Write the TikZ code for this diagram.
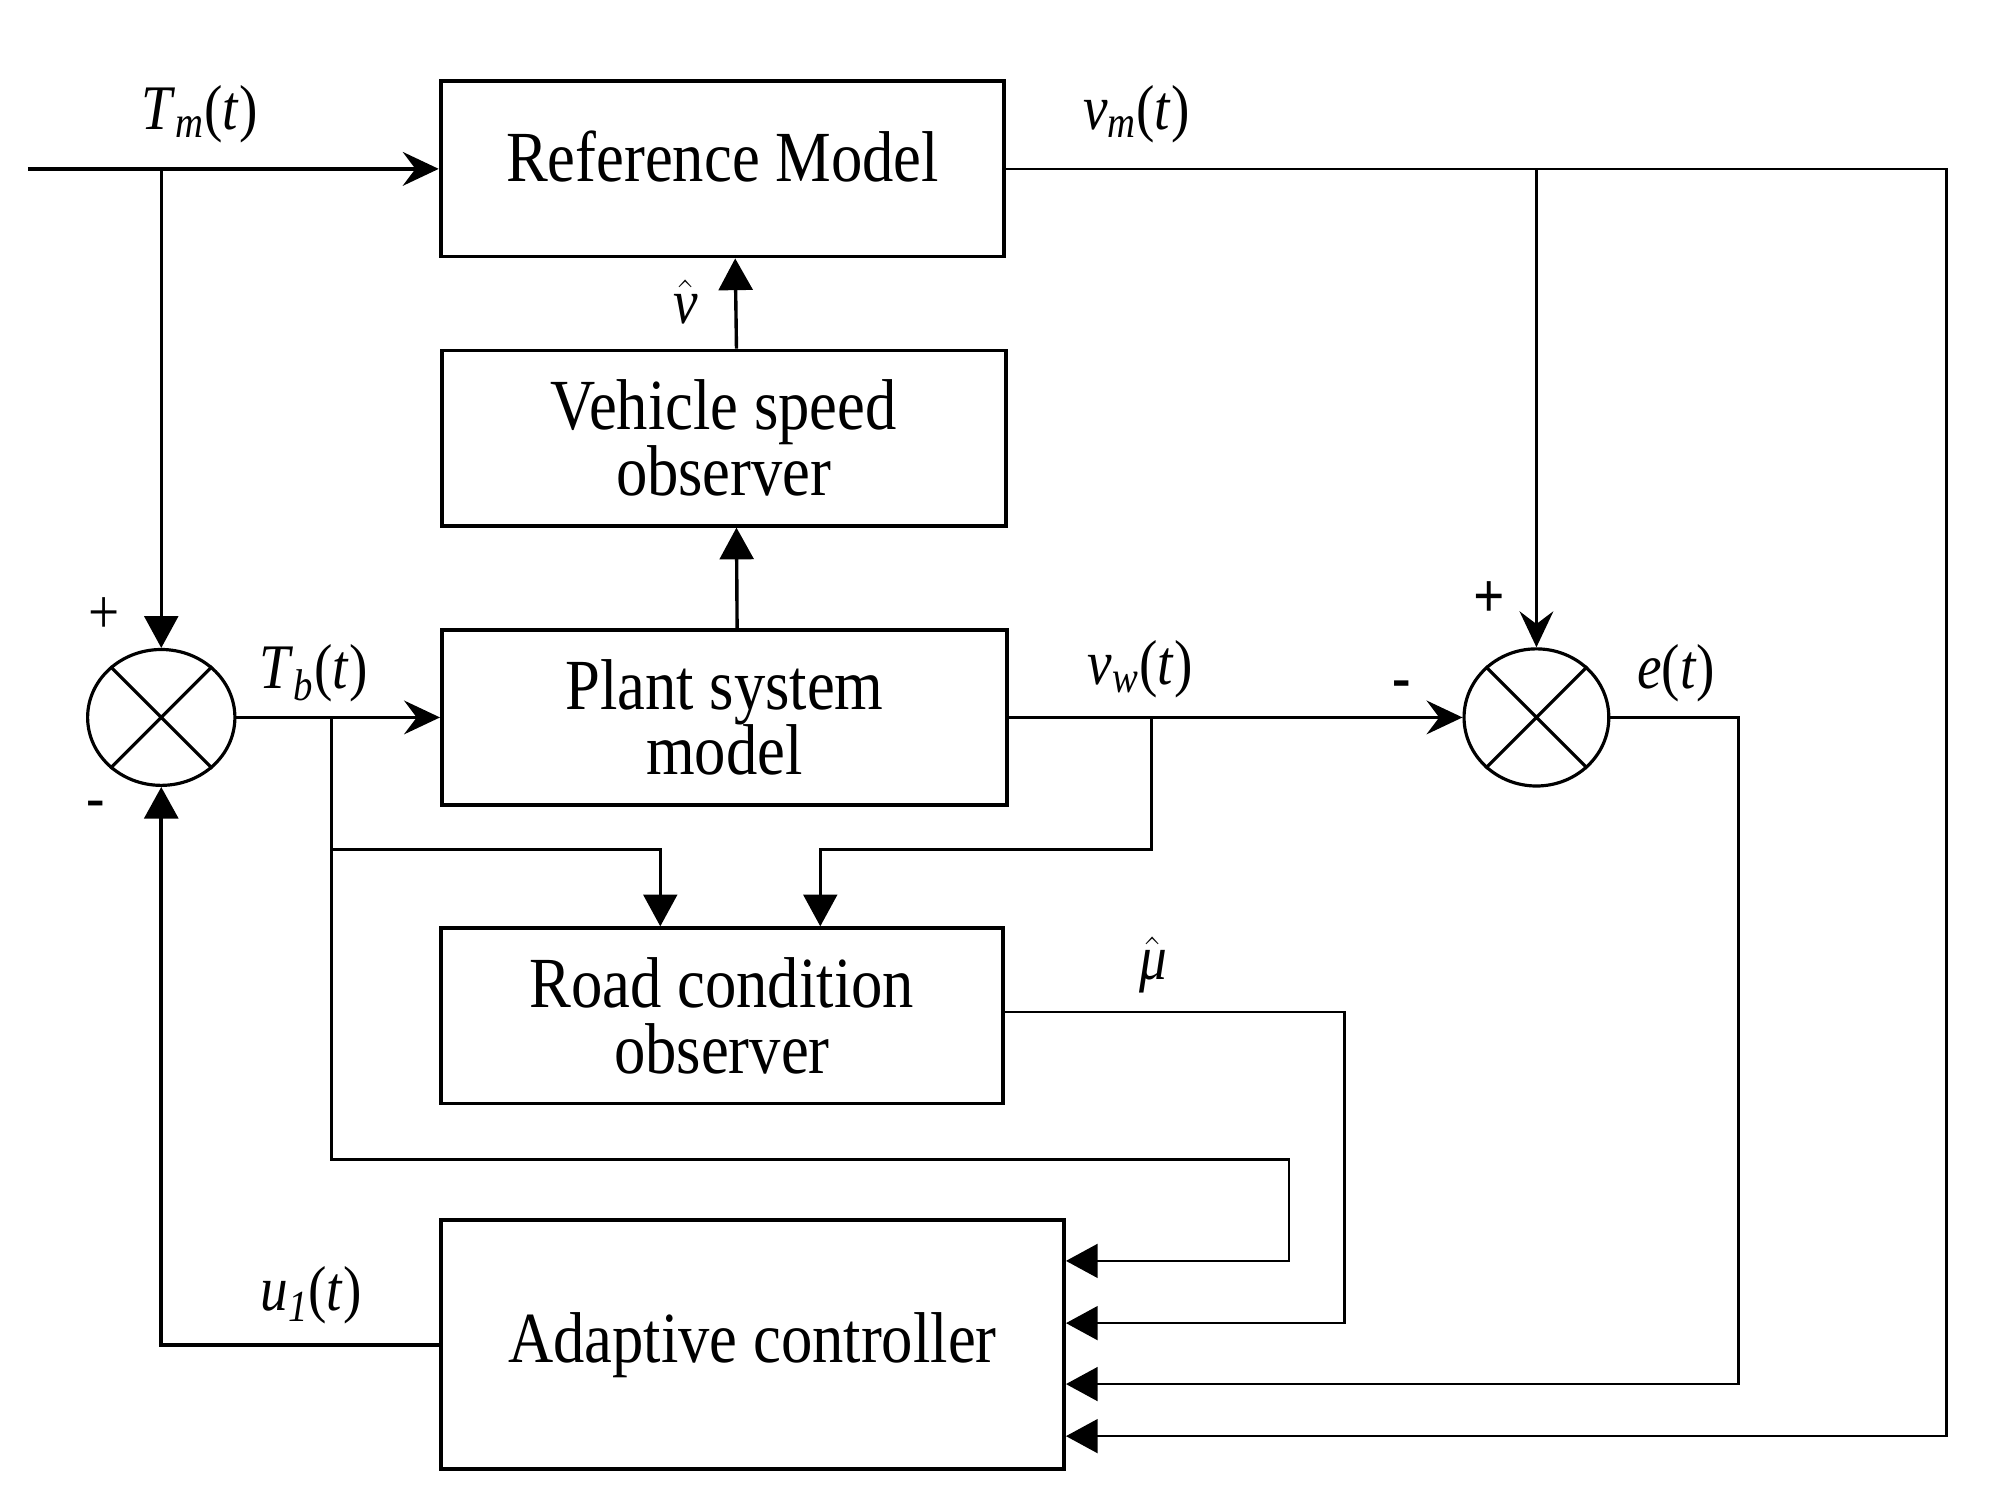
\documentclass[tikz,border=0pt]{standalone}
\usepackage{amsmath}
\usepackage{fontspec}
\setmainfont[FakeStretch=0.87]{Liberation Serif}
\usetikzlibrary{arrows.meta,shapes.geometric}
\begin{document}
\begin{tikzpicture}[x=0.6pt,y=-0.6pt,
  blk/.style={draw,line width=1.8pt,minimum height=82.8pt,inner sep=0pt,align=center,font=\fontsize{34}{31}\selectfont},
  sumnode/.style={draw,ellipse,line width=1.5pt,minimum width=69.6pt,minimum height=64.2pt,inner sep=0pt},
  conn/.style={line width=1.2pt},
  tri/.style={-{Triangle[length=15pt,width=16pt]}},
  stl/.style={-{Stealth[length=17pt,width=16pt,inset=6pt]}},
  lab/.style={font=\fontsize{30}{30}\selectfont,inner sep=0pt},
  sgn/.style={font=\fontsize{30}{30}\selectfont,inner sep=0pt}]
\useasboundingbox (0,0) rectangle (1568,1186);
% blocks
\node[blk,minimum width=266.4pt] (RM) at (569,133) {\raisebox{12pt}{Reference Model}};
\node[blk,minimum width=266.4pt] (VSO) at (570,345) {Vehicle speed\\observer};
\node[blk,minimum width=267pt] (Plant) at (570.5,565) {Plant system\\model};
\node[blk,minimum width=265.8pt] (Road) at (568.5,800) {Road condition\\observer};
\node[blk,minimum width=294.6pt,minimum height=117.6pt] (AC) at (592.5,1059) {Adaptive controller};
% summing junctions
\node[sumnode] (s1) at (127,565) {};
\draw[line width=1.5pt] (s1.45) -- (s1.225) (s1.135) -- (s1.315);
\node[sumnode,minimum width=68.4pt,minimum height=64.8pt] (s2) at (1210,565) {};
\draw[line width=1.5pt] (s2.45) -- (s2.225) (s2.135) -- (s2.315);
% coordinates
\coordinate (in) at (22,133);
\coordinate (j1) at (127,133);
\coordinate (vmR) at (1533,133);
\coordinate (vmB) at (1533,1131);
\coordinate (j2) at (1210,133);
\coordinate (jw) at (907,565);
\coordinate (jw1) at (907,669);
\coordinate (jw2) at (646,669);
\coordinate (jb) at (261,565);
\coordinate (jb1) at (261,669);
\coordinate (jb2) at (520,669);
\coordinate (jb3) at (261,913);
\coordinate (jb4) at (1015,913);
\coordinate (jb5) at (1015,993);
\coordinate (mu1) at (1059,797);
\coordinate (mu2) at (1059,1042);
\coordinate (e1) at (1369,565);
\coordinate (e2) at (1369,1090);
\coordinate (u1) at (127,1059);
% connectors
\draw[conn,stl,line width=1.6pt] (in) -- (RM.west);
\draw[conn,tri] (j1) -- (s1.north);
\draw[conn,tri] (RM.east) -- (vmR) -- (vmB) -- (vmB -| AC.east);
\draw[conn,stl] (j2) -- (s2.north);
\draw[conn,tri,line width=1.6pt] ([xshift=6pt]Plant.north) -- ([xshift=6pt]VSO.south);
\draw[conn,tri,line width=1.6pt] ([xshift=6pt]VSO.north) -- ([xshift=6pt]RM.south);
\draw[conn,stl] (s1.east) -- (Plant.west);
\draw[conn,stl] (Plant.east) -- (s2.west);
\draw[conn,tri] (jw) -- (jw1) -- (jw2) -- (jw2 |- Road.north);
\draw[conn,tri] (jb1) -- (jb2) -- (jb2 |- Road.north);
\draw[conn,tri] (jb) -- (jb3) -- (jb4) -- (jb5) -- (jb5 -| AC.east);
\draw[conn,tri] (Road.east |- mu1) -- (mu1) -- (mu2) -- (mu2 -| AC.east);
\draw[conn,tri] (s2.east) -- (e1) -- (e2) -- (e2 -| AC.east);
\draw[conn,tri,line width=1.9pt] (AC.west) -- (u1) -- (s1.south);
% labels
\node[lab] (lTm) at (157,90) {\textit{T}$_{\textit{m}}$(\textit{t})};
\node[lab] (lvm) at (895,90) {\textit{v}$_{\textit{m}}$(\textit{t})};
\node[lab] (lvh) at (540,238) {$\hat{\text{\itshape v}}$};
\node[lab] (lTb) at (247,530) {\textit{T}$_{\textit{b}}$(\textit{t})};
\node[lab] (lvw) at (898,527) {\textit{v}$_{\textit{w}}$(\textit{t})};
\node[lab] (le) at (1320,530) {\textit{e}(\textit{t})};
\node[lab] (lmu) at (908,760) {$\hat{\text{\itshape μ}}$};
\node[lab] (lu) at (245,1020) {\textit{u}$_{\textit{1}}$(\textit{t})};
\node[sgn] (p1) at (82,485) {+};
\node[sgn] (m1) at (75,638) {-};
\node[sgn] (p2) at (1173,472) {\textbf{+}};
\node[sgn] (m2) at (1104,543) {\textbf{-}};
\end{tikzpicture}
\end{document}
